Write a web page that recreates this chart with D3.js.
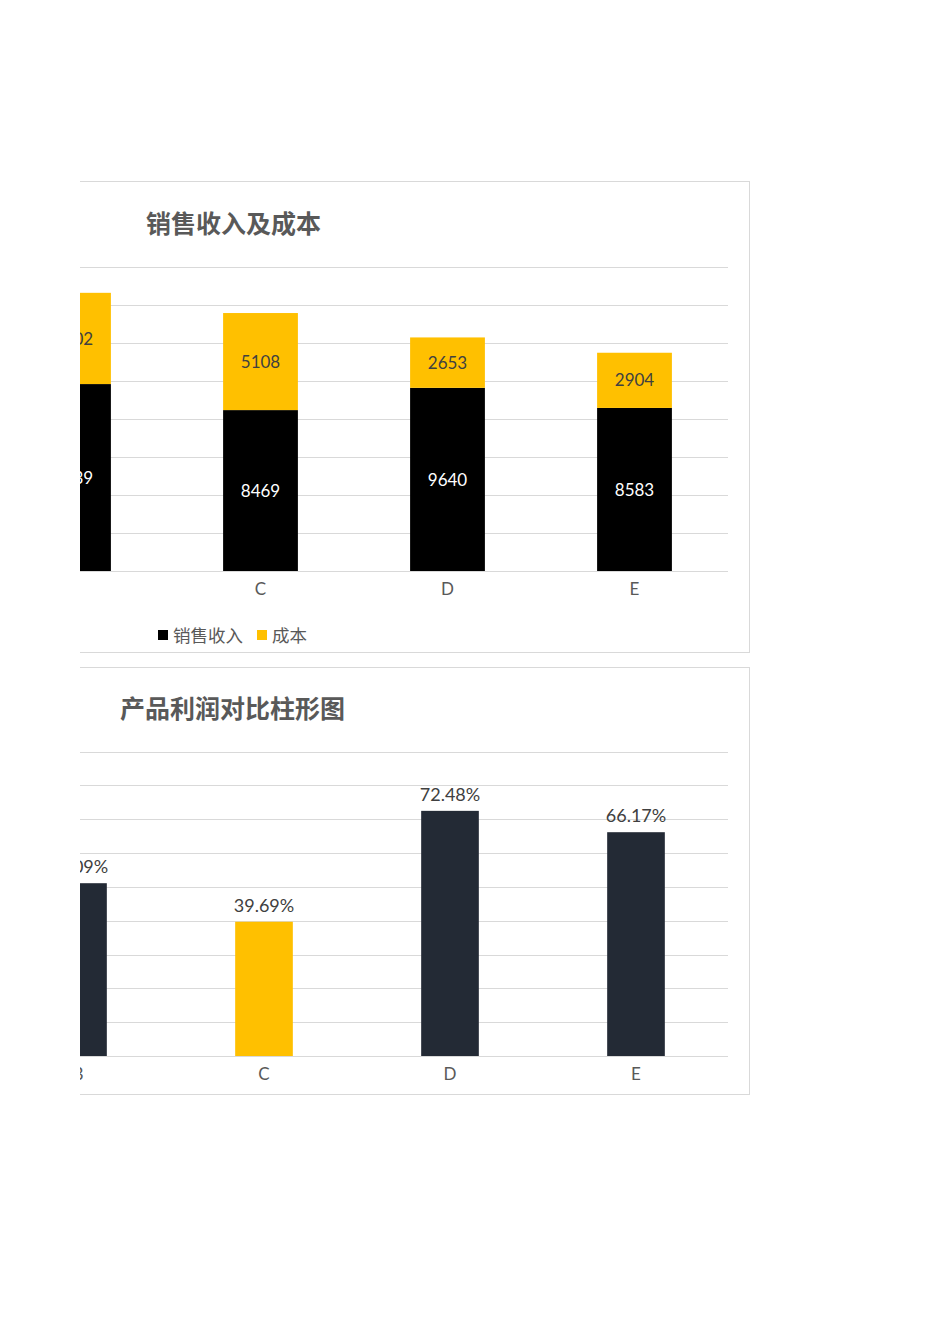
<!DOCTYPE html>
<html>
<head>
<meta charset="utf-8">
<script src="https://cdn.jsdelivr.net/npm/d3@7"></script>
<style>
  body { margin: 0; background: #fff; }
  svg { display: block; }
  text { font-family: Lato, "Noto Sans", "Noto Sans CJK SC", sans-serif; }
  .cjk { font-family: "Noto Sans CJK SC", sans-serif; }
</style>
</head>
<body>
<svg id="page" width="950" height="1344"></svg>
<script>
// data
const categories = ['B', 'C', 'D', 'E'];
const revenue = [9839, 8469, 9640, 8583];
const cost = [4802, 5108, 2653, 2904];
const seriesNames = ['销售收入', '成本'];
const revTicks = [0, 2000, 4000, 6000, 8000, 10000, 12000, 14000, 16000];

const profitRate = [0.5109, 0.3969, 0.7248, 0.6617];
const highlight = ['C'];
const rateTicks = [0, 0.1, 0.2, 0.3, 0.4, 0.5, 0.6, 0.7, 0.8, 0.9];

const YELLOW = '#FFC000', BLACK = '#000000', NAVY = '#232A35';
const GRID = '#D9D9D9', TXT = '#595959', LBL = '#404040';

const svg = d3.select('#page');

// the sheet is cut off on the left side
svg.append('clipPath').attr('id', 'cut')
  .append('rect').attr('x', 80).attr('y', 0).attr('width', 870).attr('height', 1344);

const root = svg.append('g').attr('clip-path', 'url(#cut)');

// ---------- chart 1 : stacked revenue / cost ----------
const c1 = root.append('g');

c1.append('rect')
  .attr('x', -300.5).attr('y', 181.5)
  .attr('width', 1050).attr('height', 471)
  .attr('fill', '#fff').attr('stroke', GRID);

const x1 = d3.scaleBand().domain(categories).range([-20, 728])
  .paddingInner(0.6).paddingOuter(0.3);
const y1 = d3.scaleLinear().domain([0, 16000]).range([571, 267]);

c1.selectAll('line.grid')
  .data(revTicks)
  .enter().append('line')
    .attr('class', 'grid')
    .attr('x1', -20).attr('x2', 728)
    .attr('y1', d => Math.round(y1(d)) + 0.5)
    .attr('y2', d => Math.round(y1(d)) + 0.5)
    .attr('stroke', GRID).attr('stroke-width', 1);

const rows = categories.map((c, i) => ({cat: c, rev: revenue[i], cost: cost[i]}));
const stacked = d3.stack().keys(['rev', 'cost'])(rows);
const segColor = [BLACK, YELLOW];
const segText = ['#FFFFFF', LBL];

stacked.forEach((layer, li) => {
  const g = c1.append('g');
  g.selectAll('rect')
    .data(layer)
    .enter().append('rect')
      .attr('x', d => x1(d.data.cat))
      .attr('y', d => y1(d[1]))
      .attr('width', x1.bandwidth())
      .attr('height', d => y1(d[0]) - y1(d[1]))
      .attr('fill', segColor[li]);
  g.selectAll('text')
    .data(layer)
    .enter().append('text')
      .text(d => d[1] - d[0])
      .attr('x', d => x1(d.data.cat) + x1.bandwidth() / 2)
      .attr('y', d => (y1(d[0]) + y1(d[1])) / 2)
      .attr('dy', '0.36em')
      .attr('text-anchor', 'middle')
      .attr('font-size', 17)
      .attr('fill', segText[li]);
});

c1.selectAll('text.cat')
  .data(categories)
  .enter().append('text')
    .attr('class', 'cat')
    .text(d => d)
    .attr('x', d => x1(d) + x1.bandwidth() / 2)
    .attr('y', 589)
    .attr('dy', '0.36em')
    .attr('text-anchor', 'middle')
    .attr('font-size', 17)
    .attr('fill', TXT);

c1.append('text')
  .attr('class', 'cjk')
  .text('销售收入及成本')
  .attr('x', 233.5).attr('y', 223.5).attr('dy', '0.36em')
  .attr('text-anchor', 'middle')
  .attr('font-size', 25).attr('font-weight', 'bold')
  .attr('fill', TXT);

// legend
const legend = c1.append('g').attr('transform', 'translate(158,636)');
const legX = [0, 99];
seriesNames.forEach((name, i) => {
  legend.append('rect')
    .attr('x', legX[i]).attr('y', -6)
    .attr('width', 10).attr('height', 10)
    .attr('fill', segColor[i]);
  legend.append('text')
    .attr('class', 'cjk')
    .text(name)
    .attr('x', legX[i] + 15).attr('y', 0).attr('dy', '0.36em')
    .attr('font-size', 17.5)
    .attr('fill', TXT);
});

// ---------- chart 2 : profit rate ----------
const c2 = root.append('g');

c2.append('rect')
  .attr('x', -300.5).attr('y', 667.5)
  .attr('width', 1050).attr('height', 427)
  .attr('fill', '#fff').attr('stroke', GRID);

const x2 = d3.scaleBand().domain(categories).range([-15, 729])
  .paddingInner(0.69).paddingOuter(0.345);
const y2 = d3.scaleLinear().domain([0, 0.9]).range([1056, 751.6]);

c2.selectAll('line.grid')
  .data(rateTicks)
  .enter().append('line')
    .attr('class', 'grid')
    .attr('x1', -20).attr('x2', 728)
    .attr('y1', d => Math.round(y2(d)) + 0.5)
    .attr('y2', d => Math.round(y2(d)) + 0.5)
    .attr('stroke', GRID).attr('stroke-width', 1);

const rateRows = categories.map((c, i) => ({cat: c, v: profitRate[i]}));

c2.selectAll('rect.bar')
  .data(rateRows)
  .enter().append('rect')
    .attr('class', 'bar')
    .attr('x', d => x2(d.cat))
    .attr('y', d => y2(d.v))
    .attr('width', x2.bandwidth())
    .attr('height', d => y2(0) - y2(d.v))
    .attr('fill', d => highlight.includes(d.cat) ? YELLOW : NAVY);

const pct = d3.format('.2%');
c2.selectAll('text.val')
  .data(rateRows)
  .enter().append('text')
    .attr('class', 'val')
    .text(d => pct(d.v))
    .attr('x', d => x2(d.cat) + x2.bandwidth() / 2)
    .attr('y', d => y2(d.v) - 10)
    .attr('text-anchor', 'middle')
    .attr('font-size', 18)
    .attr('fill', LBL);

c2.selectAll('text.cat')
  .data(categories)
  .enter().append('text')
    .attr('class', 'cat')
    .text(d => d)
    .attr('x', d => x2(d) + x2.bandwidth() / 2)
    .attr('y', 1074)
    .attr('dy', '0.36em')
    .attr('text-anchor', 'middle')
    .attr('font-size', 17)
    .attr('fill', TXT);

c2.append('text')
  .attr('class', 'cjk')
  .text('产品利润对比柱形图')
  .attr('x', 232.5).attr('y', 709).attr('dy', '0.36em')
  .attr('text-anchor', 'middle')
  .attr('font-size', 25).attr('font-weight', 'bold')
  .attr('fill', TXT);
</script>
</body>
</html>
